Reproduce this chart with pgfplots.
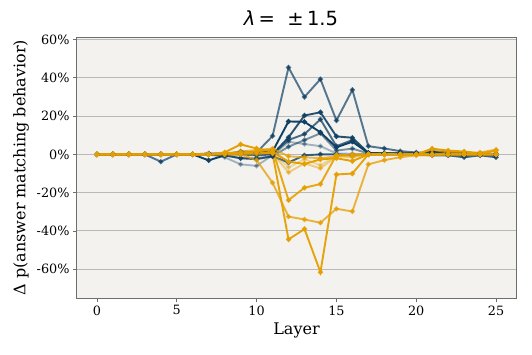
\documentclass[border=0pt]{standalone}
\usepackage{fontspec}
\setmainfont{DejaVu Serif}
\newfontfamily\titlefont{DejaVu Sans}
\usepackage{pgfplots}
\usepackage{pgfplotstable}
\pgfplotsset{compat=1.18}
\definecolor{navy}{RGB}{16,64,100}
\definecolor{amber}{RGB}{230,159,0}
\definecolor{bgc}{RGB}{243,242,238}
\definecolor{gridc}{RGB}{185,185,185}
\definecolor{framec}{RGB}{110,110,110}

\pgfplotstableread{
layer b1 b2 b3 b4 b5 b6 b7 o1 o2 o3 o4 o5 o6 o7
0 0 0 0 0 0 0 0 0 0 0 0 0 0 0
1 0 0 0 0 0 0 0 0 0 0 0 0 0 0
2 0 0 0 0 0 0 0 0 0 0 0 0 0 0
3 0 0 0 0 0 0 0 0 0 0 0 0 0 0
4 -3.8 0 0 0 0 0 0 0 0 0 0 0 0 0
5 0 0 0 0 0 0 0 0 0 0 0 0 0 0
6 0 0 0 0 0 0 0 0 0 0 0 0 0 0
7 0.5 -3.1 0.3 0 0 0 0 0 0 0 0 0 0 0
8 0 -0.5 0.5 0 -0.5 -1.5 -0.5 0.3 0 0.5 0 0 1 0.5
9 0.5 1.5 1 0 -2 -5.2 -2 0.5 0 1 0 0 5.2 1.5
10 1 1 1 -0.5 -2 -6 -2.5 1 -3 1.5 0.5 0 3.1 2.3
11 9.6 1.5 0 0 -1 -0.5 -1 0.5 -14.8 2.5 0.5 1 1.4 3
12 45.4 17.2 8.9 7.5 4 6.6 -4.2 -44.4 -32.5 -23.9 -9.4 -6.8 -3.8 -1
13 30 17 20.3 10.6 7.5 5.4 -0.5 -39 -34 -17.4 -4.7 -2.5 -5 -1.5
14 39.3 11.5 22 18.3 11 4.3 0 -61.5 -35.7 -15.5 -7.3 -5.7 -2.6 -2
15 17.7 3.7 9.4 4.3 2 0.5 0 -10.5 -28.4 -0.3 -1 -0.5 -2 -1
16 33.7 6.6 8.7 7.5 3 0.3 -0.5 -10 -29.8 -0.5 -1.5 -1 -3.5 0
17 4.3 0.8 0.8 0.5 0.5 0 0 0 -5.2 0 0 0 0 0
18 3.1 0.5 0.5 0.3 0.3 0 0 0 -3 0 0 0 0 0
19 1.7 0.5 0.5 0.3 0.3 0 0 0 -1.5 0 0 0 0 0
20 1 0.5 0.3 0.3 0 0 0 0 -0.5 0 0 0 0 0
21 0.5 1.5 0.5 0.5 0.3 0 -0.5 0 -0.5 0 0 0 3 2.5
22 0.5 1 0.5 0.3 0 0 -0.5 0 0 0 0 0 2 1
23 0 1 0 0 -0.5 -0.5 -1.5 0 0 0 0 0 1.5 1
24 0.5 0.5 0.3 0 0 0 -0.5 0 0 0 0 0 0.5 1
25 -0.5 0.3 0 0 0 0 -1.5 0 0 0 0 0 2 2.5
}\data

\begin{document}
\begin{tikzpicture}
\path[use as bounding box] (-77pt,-56pt) rectangle (455pt,298pt);
\begin{axis}[at={(0,0)},anchor=south west,scale only axis,
  width=439pt,height=261pt,
  xmin=-1.25,xmax=26.25,ymin=-75,ymax=61.3,
  axis background/.style={fill=bgc},
  axis line style={framec,line width=1pt},
  xtick={0,5,10,15,20,25}, xticklabels={0,5,10,15,20,25},
  ytick={-60,-40,-20,0,20,40,60},
  yticklabels={-60\%,-40\%,-20\%,0\%,20\%,40\%,60\%},
  tick align=outside, xtick pos=lower, ytick pos=left,
  major tick length=4pt,
  tick style={framec,line width=0.8pt},
  ymajorgrids, major grid style={gridc,line width=1pt},
  tick label style={font=\fontsize{12.8}{15}\selectfont},
  label style={font=\fontsize{16}{19}\selectfont},
  xlabel={Layer}, ylabel={Δ p(answer matching behavior)},
  xlabel style={at={(axis description cs:0.5,-0.1226)},anchor=center},
  ylabel style={at={(axis description cs:-0.1276,0.5)},anchor=center},
  title={{\titlefont\fontsize{19.5}{23}\selectfont\itshape λ\upshape\,=\ \ ±\,1.5}},
  title style={at={(axis description cs:0.4875,1)},anchor=base,yshift=5.5pt},
  every axis plot/.append style={line width=1.9pt,mark=*,mark size=1.5pt},
]
\addplot[navy,opacity=0.7] table[x=layer,y=b1]{\data};
\addplot[navy,opacity=0.35] table[x=layer,y=b6]{\data};
\addplot[navy,opacity=0.55] table[x=layer,y=b5]{\data};
\addplot[navy,opacity=0.75] table[x=layer,y=b4]{\data};
\addplot[navy,opacity=0.8] table[x=layer,y=b7]{\data};
\addplot[navy,opacity=0.9] table[x=layer,y=b3]{\data};
\addplot[navy,opacity=1] table[x=layer,y=b2]{\data};
\addplot[amber,opacity=0.35] table[x=layer,y=o5]{\data};
\addplot[amber,opacity=0.45] table[x=layer,y=o4]{\data};
\addplot[amber,opacity=0.7] table[x=layer,y=o7]{\data};
\addplot[amber,opacity=0.75] table[x=layer,y=o2]{\data};
\addplot[amber,opacity=0.9] table[x=layer,y=o3]{\data};
\addplot[amber,opacity=0.95] table[x=layer,y=o1]{\data};
\addplot[amber,opacity=1] table[x=layer,y=o6]{\data};
\end{axis}
\end{tikzpicture}
\end{document}
